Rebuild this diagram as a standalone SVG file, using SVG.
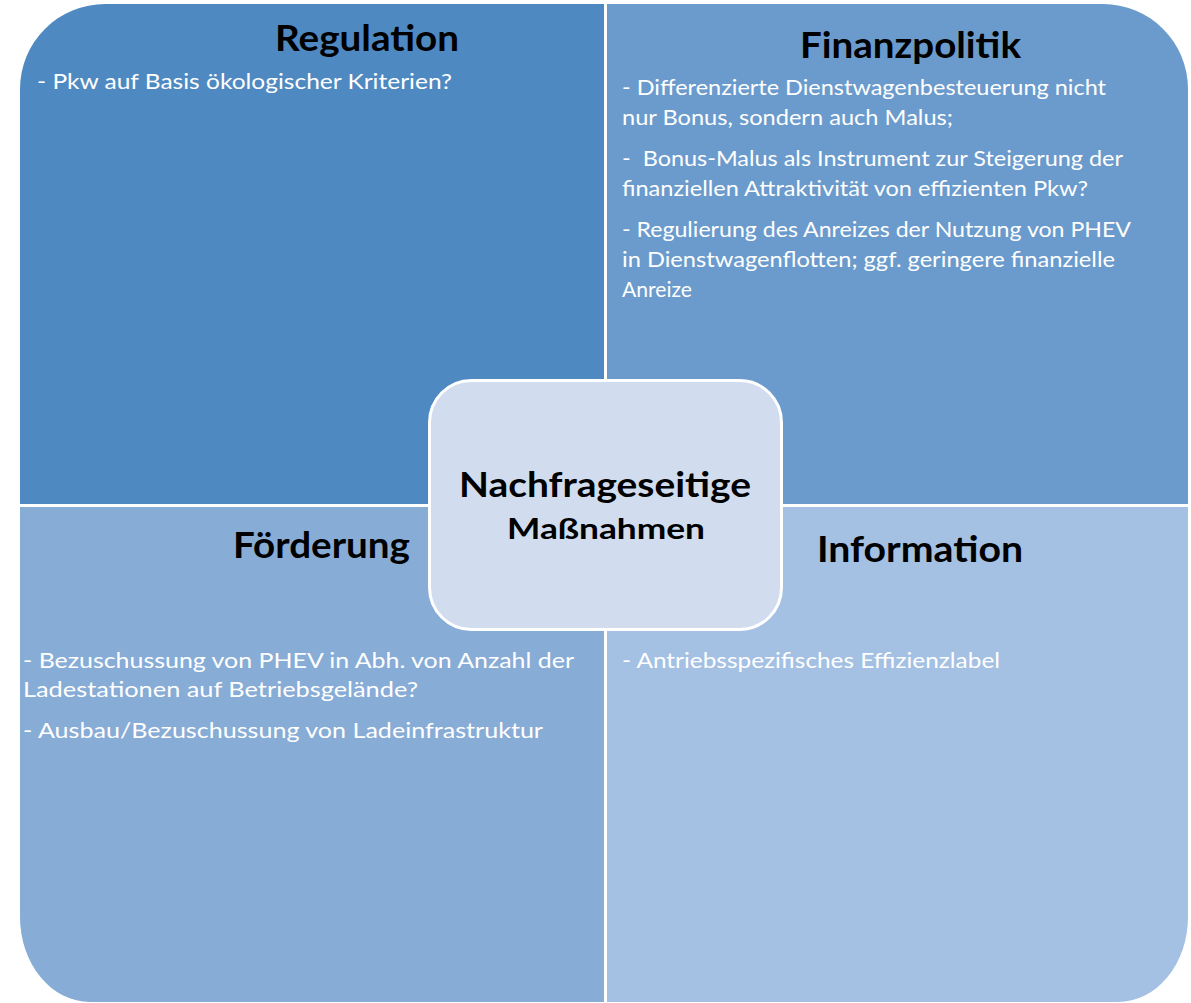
<svg xmlns="http://www.w3.org/2000/svg" width="1191" height="1003" viewBox="0 0 1191 1003">
<style>
.title{font-family:Lato,"Liberation Sans",sans-serif;font-weight:bold;font-size:36px;fill:#000;text-anchor:middle}
.body{font-family:Lato,"Liberation Sans",sans-serif;font-size:21px;fill:#fff}
.center{font-family:Lato,"Liberation Sans",sans-serif;font-weight:bold;fill:#000;text-anchor:middle}
</style>
<rect width="1191" height="1003" fill="#fff"/>
<g id="regulation">
<path d="M20,504 V89 A85,85 0 0 1 105,4 H604 V504 Z" fill="#4F89C1"/>
<text class="title" x="367" y="51" textLength="184" lengthAdjust="spacingAndGlyphs">Regulation</text>
<text class="body" x="37" y="89" textLength="415" lengthAdjust="spacingAndGlyphs">- Pkw auf Basis ökologischer Kriterien?</text>
</g>
<g id="finanzpolitik">
<path d="M607,4 H1103 A85,85 0 0 1 1188,89 V504 H607 Z" fill="#6A9BCC"/>
<text class="title" x="910.5" y="58" textLength="221" lengthAdjust="spacingAndGlyphs">Finanzpolitik</text>
<text class="body" x="622" y="95" textLength="484" lengthAdjust="spacingAndGlyphs">- Differenzierte Dienstwagenbesteuerung nicht</text>
<text class="body" x="622" y="125" textLength="331" lengthAdjust="spacingAndGlyphs">nur Bonus, sondern auch Malus;</text>
<text class="body" x="622" y="166" textLength="501" lengthAdjust="spacingAndGlyphs" xml:space="preserve">-  Bonus-Malus als Instrument zur Steigerung der</text>
<text class="body" x="622" y="196" textLength="466" lengthAdjust="spacingAndGlyphs">finanziellen Attraktivität von effizienten Pkw?</text>
<text class="body" x="622" y="237" textLength="509" lengthAdjust="spacingAndGlyphs">- Regulierung des Anreizes der Nutzung von PHEV</text>
<text class="body" x="622" y="267" textLength="493" lengthAdjust="spacingAndGlyphs">in Dienstwagenflotten; ggf. geringere finanzielle</text>
<text class="body" x="622" y="297" textLength="70" lengthAdjust="spacingAndGlyphs">Anreize</text>
</g>
<g id="foerderung">
<path d="M20,507 H604 V1002 H90 A70,85 0 0 1 20,917 Z" fill="#87ACD6"/>
<text class="title" x="321.5" y="558" textLength="177" lengthAdjust="spacingAndGlyphs">Förderung</text>
<text class="body" x="23" y="668" textLength="551" lengthAdjust="spacingAndGlyphs">- Bezuschussung von PHEV in Abh. von Anzahl der</text>
<text class="body" x="23" y="697" textLength="395" lengthAdjust="spacingAndGlyphs">Ladestationen auf Betriebsgelände?</text>
<text class="body" x="23" y="738" textLength="520" lengthAdjust="spacingAndGlyphs">- Ausbau/Bezuschussung von Ladeinfrastruktur</text>
</g>
<g id="information">
<path d="M607,507 H1188 V917 A70,85 0 0 1 1118,1002 H607 Z" fill="#A4C0E3"/>
<text class="title" x="920" y="562" textLength="206" lengthAdjust="spacingAndGlyphs">Information</text>
<text class="body" x="622" y="668" textLength="378" lengthAdjust="spacingAndGlyphs">- Antriebsspezifisches Effizienzlabel</text>
</g>
<g id="connectors"></g>
<g id="nachfrageseitige-massnahmen">
<rect x="429.5" y="380.5" width="352" height="249" rx="42" ry="42" fill="#D1DDEE" stroke="#fff" stroke-width="3"/>
<text class="center" x="605" y="497" font-size="35" textLength="292" lengthAdjust="spacingAndGlyphs">Nachfrageseitige</text>
<text class="center" x="606" y="539" font-size="29" textLength="198" lengthAdjust="spacingAndGlyphs">Maßnahmen</text>
</g>
</svg>
